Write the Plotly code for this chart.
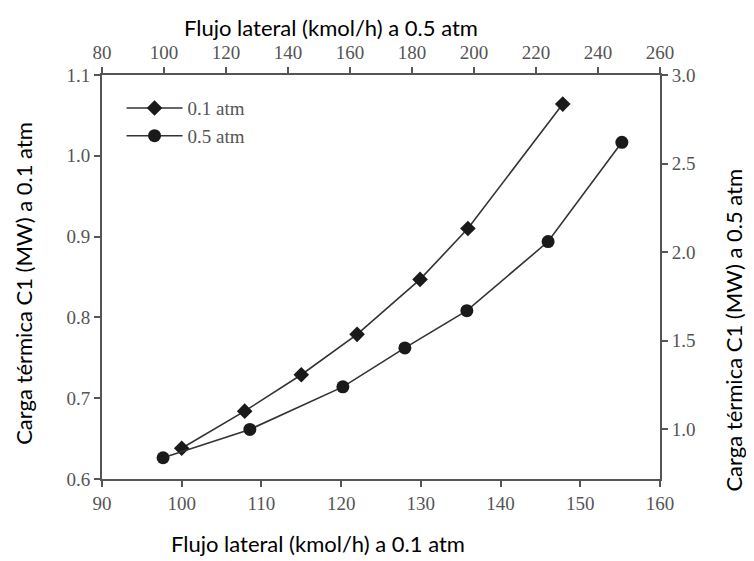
import plotly.graph_objects as go

# 0.1 atm series (bottom x axis, left y axis)
flow_01 = [100.0, 107.9, 115.0, 122.0, 129.9, 135.9, 147.8]
duty_01 = [0.638, 0.684, 0.729, 0.779, 0.847, 0.910, 1.064]

# 0.5 atm series (top x axis, right y axis)
flow_05 = [99.7, 127.7, 157.7, 177.7, 197.7, 223.9, 247.7]
duty_05 = [0.84, 1.00, 1.24, 1.46, 1.67, 2.06, 2.62]

bottom_ticks = [90, 100, 110, 120, 130, 140, 150, 160]
top_ticks = [80, 100, 120, 140, 160, 180, 200, 220, 240, 260]
left_ticks = [0.6, 0.7, 0.8, 0.9, 1.0, 1.1]
right_ticks = [1.0, 1.5, 2.0, 2.5, 3.0]

title_bottom = "Flujo lateral (kmol/h) a 0.1 atm"
title_top = "Flujo lateral (kmol/h) a 0.5 atm"
title_left = "Carga térmica C1 (MW) a 0.1 atm"
title_right = "Carga térmica C1 (MW) a 0.5 atm"

serif = dict(family="Liberation Serif", size=19, color="#555555")
legfont = dict(family="Liberation Serif", size=19, color="#555555")
sans = dict(family="Lato", size=22, color="#000000")
axcol = "#555555"

fig = go.Figure()
fig.add_trace(go.Scatter(
    x=flow_01, y=duty_01, name="0.1 atm", mode="lines+markers",
    line=dict(color="#333333", width=1.6),
    marker=dict(symbol="diamond", size=12, color="#1a1a1a"),
    xaxis="x", yaxis="y"))
fig.add_trace(go.Scatter(
    x=flow_05, y=duty_05, name="0.5 atm", mode="lines+markers",
    line=dict(color="#333333", width=1.6),
    marker=dict(symbol="circle", size=13, color="#1a1a1a"),
    xaxis="x2", yaxis="y2"))

common = dict(showgrid=False, zeroline=False, showline=True, linecolor=axcol,
              linewidth=2, ticks="outside", ticklen=6, tickcolor=axcol,
              tickwidth=1.5, tickfont=serif, automargin=False)

# the page adds an 8px body margin, so the figure is drawn 8px smaller
fig.update_layout(
    width=746, height=553,
    margin=dict(l=94, r=94, t=67, b=82),
    paper_bgcolor="white", plot_bgcolor="white",
    showlegend=True,
    legend=dict(x=0.035, y=0.965, xanchor="left", yanchor="top",
                font=legfont, bgcolor="rgba(0,0,0,0)", tracegroupgap=0,
                itemwidth=56),
    xaxis=dict(range=[90, 160], tickvals=bottom_ticks, side="bottom", **common),
    xaxis2=dict(range=[80, 260], tickvals=top_ticks, side="top",
                overlaying="x", anchor="y", **common),
    yaxis=dict(range=[0.6, 1.1], tickvals=left_ticks, tickformat=".1f", **common),
    yaxis2=dict(range=[0.72, 3.0], tickvals=right_ticks, tickformat=".1f",
                side="right", overlaying="y", anchor="x", **common),
    annotations=[
        dict(text=title_top, xref="paper", yref="paper", x=0.410, y=1.118,
             showarrow=False, font=sans, xanchor="center", yanchor="middle"),
        dict(text=title_bottom, xref="paper", yref="paper", x=0.387, y=-0.160,
             showarrow=False, font=sans, xanchor="center", yanchor="middle"),
        dict(text=title_left, xref="paper", yref="paper", x=-0.142, y=0.485,
             showarrow=False, font=sans, textangle=-90,
             xanchor="center", yanchor="middle"),
        dict(text=title_right, xref="paper", yref="paper", x=1.132, y=0.369,
             showarrow=False, font=sans, textangle=-90,
             xanchor="center", yanchor="middle"),
    ],
)

fig.write_html("out.html")
